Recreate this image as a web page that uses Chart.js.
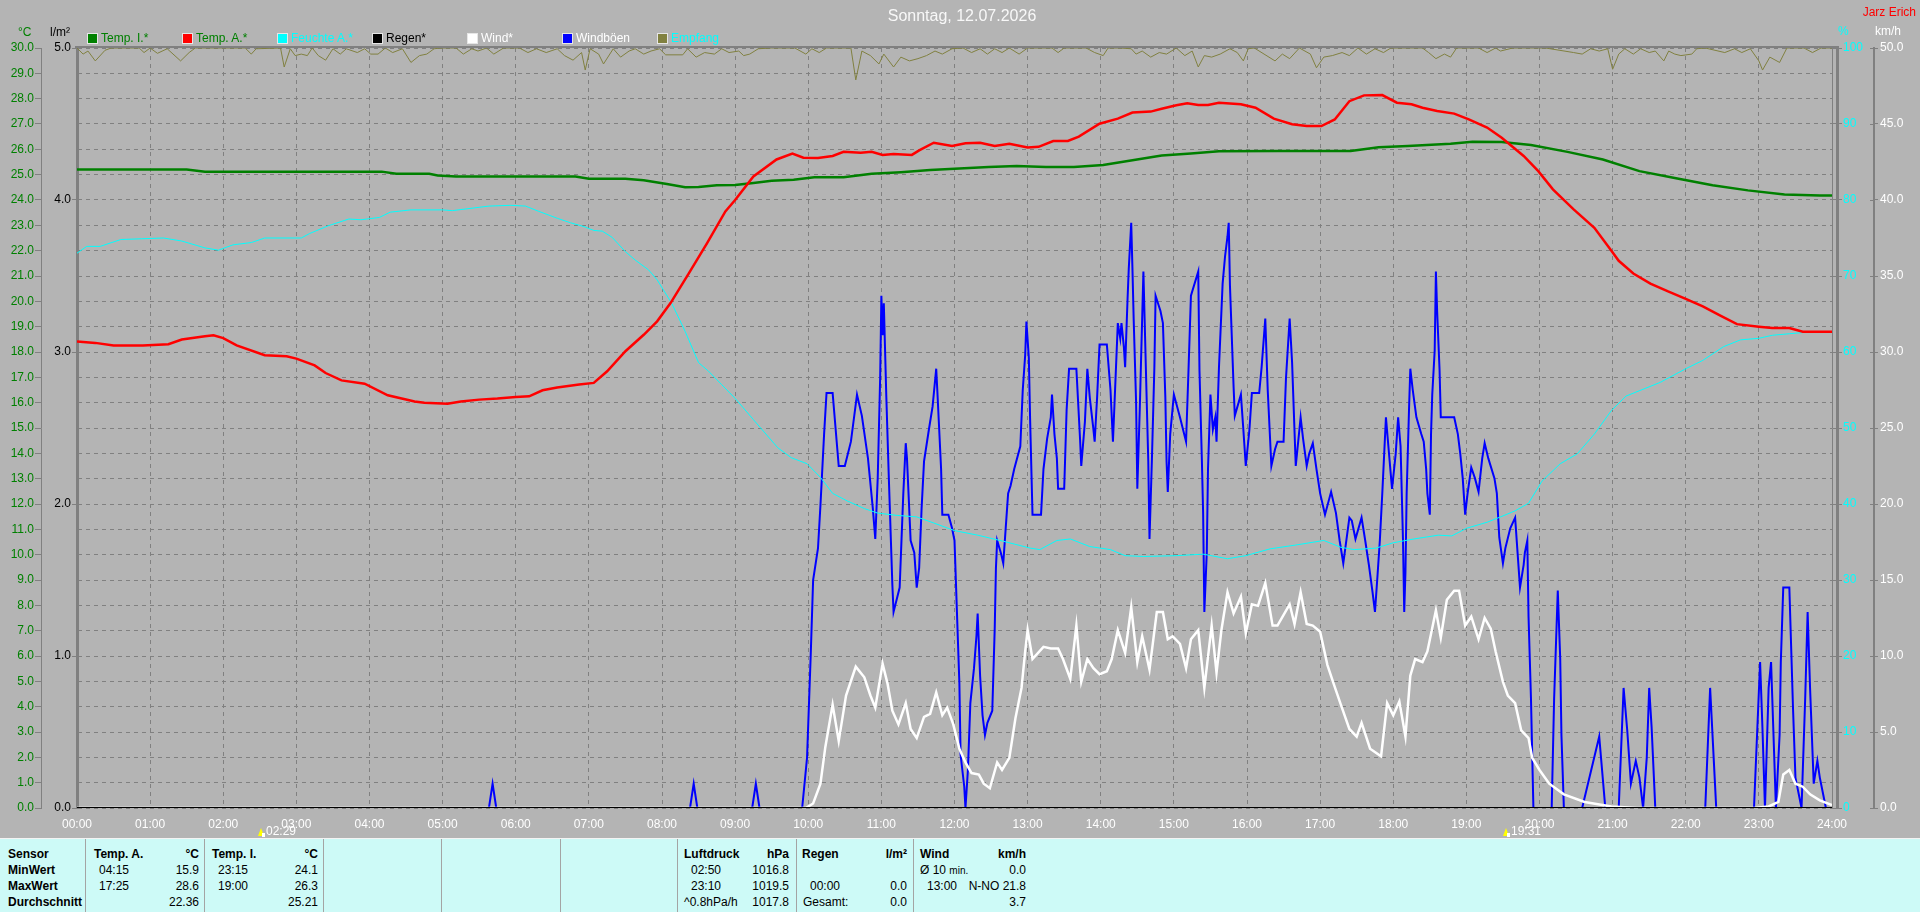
<!DOCTYPE html>
<html>
<head>
<meta charset="utf-8">
<title>Sonntag, 12.07.2026</title>
<script src="https://cdn.jsdelivr.net/npm/chart.js@4.4.1/dist/chart.umd.min.js"></script>
<style>
  body { margin: 0; background: #b4b4b4; width: 1920px; height: 912px; overflow: hidden; position: relative;
         font-family: "Liberation Sans Narrow", "Liberation Sans", Arial, sans-serif; font-size: 12px; }
  #wrap { position: absolute; left: 0; top: 0; width: 1920px; height: 838px; }
  .t { position: absolute; white-space: nowrap; line-height: 14px; }
  .lg { position: absolute; top: 31px; height: 14px; line-height: 14px; white-space: nowrap; }
  .lg i { position: absolute; left: 0; top: 2px; width: 9px; height: 9px; border: 1px solid #e6e6e6; }
  .lg span { position: absolute; left: 14px; top: 0; }
  #tbl { position: absolute; left: 0; top: 838px; width: 1920px; height: 73px; background: #cdfaf7; border-top: 1px solid #f4f4f4; }
  #tbl .sep { position: absolute; top: 0; width: 1px; height: 73px; background: #a4a4a4; }
  #tbl .c { position: absolute; white-space: nowrap; line-height: 16px; color: #000; }
  #tbl .b { font-weight: bold; }
</style>
</head>
<body>
<div id="wrap"><canvas id="wetter" width="1920" height="838"></canvas></div>

<div class="t" style="left:0;width:1924px;top:7px;text-align:center;color:#f8f8f8;font-size:16px;line-height:18px;">Sonntag, 12.07.2026</div>
<div class="t" style="right:4px;top:5px;color:#ff0000;">Jarz Erich</div>

<div class="t" style="left:18px;top:25px;color:#008000;">°C</div>
<div class="t" style="left:50px;top:25px;color:#000;">l/m²</div>
<div class="t" style="left:1838px;top:24px;color:#00ffff;">%</div>
<div class="t" style="left:1875px;top:24px;color:#fff;">km/h</div>

<div class="lg" style="left:87px"><i style="background:#008000"></i><span style="color:#008000">Temp. I.*</span></div>
<div class="lg" style="left:182px"><i style="background:#ff0000"></i><span style="color:#008000">Temp. A.*</span></div>
<div class="lg" style="left:277px"><i style="background:#00ffff"></i><span style="color:#00ffff">Feuchte A.*</span></div>
<div class="lg" style="left:372px"><i style="background:#000"></i><span style="color:#000">Regen*</span></div>
<div class="lg" style="left:467px"><i style="background:#fff"></i><span style="color:#fff">Wind*</span></div>
<div class="lg" style="left:562px"><i style="background:#0000ff"></i><span style="color:#fff">Windböen</span></div>
<div class="lg" style="left:657px"><i style="background:#808040"></i><span style="color:#00ffff">Empfang</span></div>

<div id="tbl">
  <div class="sep" style="left:85px"></div>
  <div class="sep" style="left:204px"></div>
  <div class="sep" style="left:323px"></div>
  <div class="sep" style="left:441px"></div>
  <div class="sep" style="left:560px"></div>
  <div class="sep" style="left:677px"></div>
  <div class="sep" style="left:796px"></div>
  <div class="sep" style="left:913px"></div>

  <div class="c b" style="left:8px;top:7px">Sensor</div>
  <div class="c b" style="left:8px;top:23px">MinWert</div>
  <div class="c b" style="left:8px;top:39px">MaxWert</div>
  <div class="c b" style="left:8px;top:55px">Durchschnitt</div>

  <div class="c b" style="left:94px;top:7px">Temp. A.</div>
  <div class="c b" style="right:1721px;top:7px">°C</div>
  <div class="c" style="left:99px;top:23px">04:15</div>
  <div class="c" style="right:1721px;top:23px">15.9</div>
  <div class="c" style="left:99px;top:39px">17:25</div>
  <div class="c" style="right:1721px;top:39px">28.6</div>
  <div class="c" style="right:1721px;top:55px">22.36</div>

  <div class="c b" style="left:212px;top:7px">Temp. I.</div>
  <div class="c b" style="right:1602px;top:7px">°C</div>
  <div class="c" style="left:218px;top:23px">23:15</div>
  <div class="c" style="right:1602px;top:23px">24.1</div>
  <div class="c" style="left:218px;top:39px">19:00</div>
  <div class="c" style="right:1602px;top:39px">26.3</div>
  <div class="c" style="right:1602px;top:55px">25.21</div>

  <div class="c b" style="left:684px;top:7px">Luftdruck</div>
  <div class="c b" style="right:1131px;top:7px">hPa</div>
  <div class="c" style="left:691px;top:23px">02:50</div>
  <div class="c" style="right:1131px;top:23px">1016.8</div>
  <div class="c" style="left:691px;top:39px">23:10</div>
  <div class="c" style="right:1131px;top:39px">1019.5</div>
  <div class="c" style="left:684px;top:55px">^0.8hPa/h</div>
  <div class="c" style="right:1131px;top:55px">1017.8</div>

  <div class="c b" style="left:802px;top:7px">Regen</div>
  <div class="c b" style="right:1013px;top:7px">l/m²</div>
  <div class="c" style="left:810px;top:39px">00:00</div>
  <div class="c" style="right:1013px;top:39px">0.0</div>
  <div class="c" style="left:803px;top:55px">Gesamt:</div>
  <div class="c" style="right:1013px;top:55px">0.0</div>

  <div class="c b" style="left:920px;top:7px">Wind</div>
  <div class="c b" style="right:894px;top:7px">km/h</div>
  <div class="c" style="left:920px;top:23px">Ø 10 <span style="font-size:10px">min.</span></div>
  <div class="c" style="right:894px;top:23px">0.0</div>
  <div class="c" style="left:927px;top:39px">13:00</div>
  <div class="c" style="right:894px;top:39px">N-NO 21.8</div>
  <div class="c" style="right:894px;top:55px">3.7</div>
</div>

<script>
// time of day in minutes after midnight

const tempATime = [0,15,30,54,75,86,105,112,120,131, 154,172,180,195,204,217,236,255,277,285,
  304,315,330,345,360,371,382,394,412,424, 435,450,465,476,487,502,517,532,540,555,
  574,587,596,608,620,629,643,652,661,670, 685,691,703,718,729,741,753,765,780,789,
  801,813,822,839,854,866,881,890,902,911, 920,928,937,955,967,982,997,1009,1021,1032,
  1044,1056,1071,1083,1095,1104,1116,1130,1142,1157, 1169,1187,1199,1211,1228,1245,1259,1265,1277,1291,
  1305,1320,1334,1348,1362,1380,1391,1405,1416,1440];
const tempAVal = [18.41,18.36,18.26,18.26,18.31,18.49,18.62,18.66,18.55,18.26, 17.87,17.83,17.74,17.47,17.17,16.88,16.75,16.29,16.05,16.0,
  15.96,16.05,16.12,16.16,16.22,16.25,16.49,16.6,16.72,16.78, 17.24,18.03,18.68,19.21,19.93,21.1,22.3,23.55,24.0,24.93,
  25.6,25.83,25.67,25.66,25.74,25.9,25.87,25.9,25.78,25.82, 25.78,25.96,26.26,26.13,26.24,26.26,26.13,26.22,26.07,26.1,
  26.33,26.33,26.5,27.01,27.21,27.45,27.49,27.6,27.74,27.82, 27.75,27.75,27.84,27.78,27.64,27.21,26.99,26.92,26.92,27.18,
  27.9,28.13,28.14,27.84,27.78,27.64,27.51,27.41,27.18,26.86, 26.46,25.74,25.14,24.42,23.63,22.9,22.0,21.6,21.1,20.7,
  20.4,20.1,19.8,19.45,19.1,19.0,18.95,18.95,18.8,18.8];

const tempITime = [0,90,105,250,262,289,296,311,409,420, 450,465,484,499,510,525,540,555,570,588,
  605,629,652,676,700,724,748,771,795,818, 842,866,890,914,937,985,1045,1068,1092,1127,
  1145,1169,1193,1223,1252,1282,1312,1342,1371,1401, 1430,1440];
const tempIVal = [25.2,25.2,25.12,25.12,25.04,25.04,24.97,24.93,24.93,24.84, 24.84,24.78,24.63,24.5,24.51,24.58,24.59,24.67,24.76,24.8,
  24.9,24.9,25.04,25.1,25.18,25.24,25.3,25.34,25.3,25.3, 25.38,25.57,25.76,25.84,25.92,25.93,25.93,26.08,26.13,26.22,
  26.3,26.29,26.17,25.9,25.6,25.14,24.86,24.58,24.38,24.22, 24.18,24.18];

const humTime = [0,8,19,36,53,71,86,105,116,128, 143,154,184,191,206,223,233,248,257,274,
  300,308,338,356,368,379,394,405,416,424, 431,439,450,458,469,476,488,499,510,518,
  529,540,555,575,586,599,610,620,632,646, 657,673,689,703,720,739,760,782,790,804,
  815,831,848,860,875,902,924,944,959,979, 1000,1023,1037,1048,1066,1080,1097,1117,1128,1140,
  1157,1168,1180,1191,1202,1217,1231,1245,1259,1271, 1285,1299,1320,1334,1351,1365,1380,1391,1405,1419,
  1440];
const humVal = [73.0,73.9,73.9,74.8,74.9,75.0,74.6,73.7,73.4,74.1, 74.4,75.0,75.0,75.6,76.6,77.5,77.4,77.7,78.4,78.7,
  78.7,78.6,79.2,79.3,79.2,78.5,77.6,77.0,76.5,76.0, 75.9,75.1,73.2,72.1,70.8,69.5,66.4,62.7,58.6,57.5,
  55.7,53.9,51.1,47.4,46.1,45.3,43.5,41.4,40.4,39.4, 38.8,38.5,38.3,37.5,36.5,35.9,35.1,34.2,34.0,35.2,
  35.4,34.4,34.0,33.2,33.1,33.2,33.4,32.8,33.2,34.1, 34.6,35.2,34.3,34.0,34.2,34.9,35.4,35.9,35.8,36.8,
  37.6,38.3,39.1,40.1,43.0,45.3,46.6,49.2,52.3,54.2, 55.1,56.0,57.8,58.9,60.7,61.6,61.8,62.2,62.4,62.6,
  62.6];

const rainTime = [0, 1440];
const rainVal = [0.0, 0.0];

const windTime = [0,598,604,610,614,620,625,631,639,646, 651,655,661,665,669,674,680,684,689,695,
  700,705,710,714,719,724,729,734,740,744, 749,755,759,765,770,775,778,780,784,793,
  799,805,809,815,820,824,829,834,839,845, 849,854,860,865,870,874,880,886,891,895,
  899,905,910,914,920,925,931,935,939,944, 949,955,959,964,969,975,981,985,995,999,
  1004,1009,1014,1020,1026,1031,1037,1044,1050,1054, 1061,1070,1075,1080,1085,1090,1094,1098,1104,1108,
  1115,1119,1124,1130,1134,1139,1144,1150,1155,1160, 1164,1170,1174,1180,1185,1191,1194,1200,1208,1220,
  1237,1259,1280,1376,1388,1396,1400,1405,1410,1416, 1422,1430,1440];
const windVal = [0,0,0.3,1.6,4.0,6.8,4.4,7.4,9.3,8.6, 7.4,6.6,9.5,8.2,6.4,5.5,6.9,5.2,4.6,6.0,
  6.2,7.6,6.1,6.6,5.5,3.9,3.0,2.3,2.2,1.6, 1.3,3.0,2.5,3.3,5.9,7.9,10.3,11.7,9.8,10.6,
  10.5,10.5,9.8,8.5,12.0,8.3,9.8,9.2,8.8,9.0, 9.8,11.7,10.2,13.2,9.6,11.3,9.1,12.9,12.9,11.1,
  11.3,10.8,9.2,11.1,11.7,7.9,12.0,8.9,11.7,14.2, 12.8,13.9,11.5,13.4,13.3,14.8,12.0,12.0,13.4,12.1,
  14.2,12.1,12.0,11.6,9.4,8.2,6.8,5.2,4.7,5.6, 3.9,3.4,6.9,6.1,7.0,4.7,8.7,9.8,9.6,10.3,
  13.0,11.2,13.7,14.3,14.3,12.0,12.6,11.1,12.5,11.8, 10.3,8.3,7.4,6.9,5.1,4.6,3.3,2.5,1.6,0.9,
  0.4,0.1,0,0,0.1,0.4,2.2,2.5,1.6,1.4, 0.9,0.5,0.2];

const gustTime = [0,338,341,344,503,506,509,554,557,560,595,
  599,602,604,608,610,613,615,620,625,630, 635,640,644,649,653,655,657,659,660,661,
  662,664,666,669,670,675,678,680,681,684, 687,689,691,693,695,699,702,705,706,709,
  710,715,718,720,722,724,725,728,729,731, 733,736,738,739,741,743,745,747,751,753,
  754,755,758,760,762,764,766,769,774,776, 778,779,781,782,784,791,793,796,799,800,
  802,804,805,810,812,814,820,823,824,827, 829,831,834,835,837,839,845,848,850,852,
  854,856,857,859,860,862,863,865,866,867, 869,870,872,875,877,879,880,882,884,885,
  889,891,893,894,895,897,900,905,910,912, 914,920,921,923,924,925,927,928,930,932,
  934,935,937,940,942,944,945,946,949,950, 955,957,959,962,964,970,972,975,977,980,
  983,985,990,992,995,997,1000,
  1004,1006,1009,1011,1014,1017,1020,1024,1029,1033, 1036,1039,1041,1044,1046,1049,1054,1057,1060,1063,
  1065,1067,1069,1071,1074,1076,1079,1082,1084,1086, 1088,1089,1090,1091,1093,1094,1096,1099,1103,1105,
  1107,1108,1110,1111,1112,1114,1115,1116,1118,1119, 1130,1133,1135,1137,1139,1141,1144,1147,1150,1153,
  1155,1158,1163,1165,1167,1170,1172,1176,1180,1182, 1184,1187,1188,1190,1191,1193,1195,1210,1212,1215,
  1217,1218,1220,1235,1249,1254,1265,1269,1272,1275, 1279,1282,1285,1288,1290,1292,1295,1336,1340,1345,
  1376,1381,1383,1385,1388,1390,1392,1394,1397,1398, 1400,1405,1408,1410,1415,1418,1420,1422,1425,1428,
  1430,1435,1440];
const gustVal = [0,0,1.6,0,0,1.6,0,0,1.6,0,0,
  3.3,10.0,15.0,17.1,19.9,24.6,27.3,27.3,22.5,22.5, 24.1,27.2,25.8,23.0,19.7,17.7,21.7,28.3,33.7,31.1,
  33.2,27.2,22.0,14.7,12.9,14.5,20.7,24.0,23.0,17.6, 16.8,14.5,15.8,19.7,22.8,24.9,26.4,28.9,27.3,22.3,
  19.3,19.3,18.4,17.6,12.9,8.2,3.5,1.4,0,2.5, 6.9,9.2,11.3,12.8,8.7,6.1,4.8,5.6,6.4,11.8,
  15.8,17.6,16.8,16.1,18.4,20.7,21.2,22.3,23.8,27.5, 29.8,32.0,29.6,25.7,19.3,19.3,22.3,24.3,25.7,27.2,
  24.6,23.0,21.0,21.0,26.2,28.9,28.9,24.3,22.5,25.4, 28.9,27.0,24.9,24.1,27.0,30.5,30.5,27.5,24.1,28.0,
  31.9,30.9,31.9,30.3,29.0,33.5,35.5,38.5,35.5,32.2, 26.7,21.0,26.2,35.3,29.0,22.8,17.7,23.0,29.0,33.7,
  32.7,31.9,27.0,22.8,20.8,24.6,27.2,25.7,24.1,28.8, 33.7,35.3,28.8,22.8,19.4,12.9,16.8,22.3,27.2,24.9,
  25.7,24.1,29.0,34.5,36.3,37.6,38.5,34.4,27.7,25.8, 27.2,24.9,22.5,24.9,27.3,27.3,29.0,32.2,27.5,22.5,
  23.6,24.1,24.1,28.3,32.2,29.3,22.5,
  25.7,24.3,22.5,23.3,24.0,22.3,20.7,19.3,20.8,19.4, 17.6,16.1,17.3,19.1,18.9,17.7,19.1,17.6,16.0,14.2,
  12.9,15.2,17.6,20.7,25.7,23.8,21.0,23.3,25.7,23.8, 17.6,12.9,15.5,20.7,26.4,28.9,27.5,25.7,24.6,24.1,
  22.3,20.7,19.3,24.6,27.2,30.1,35.3,32.7,28.8,25.7, 25.7,24.6,23.3,21.7,19.3,20.7,22.4,21.7,20.8,23.0,
  24.0,23.0,21.7,20.7,17.8,16.1,17.1,18.4,19.1,16.8, 14.5,16.0,16.8,17.6,12.6,7.2,0,0,7.2,14.3,
  9.8,4.8,0,0,4.7,0,0,7.9,5.1,1.6, 3.1,2.0,0,3.3,7.9,5.3,0,0,7.9,0,
  0,9.6,5.1,0,7.9,9.6,4.8,0,4.8,9.6, 14.5,14.5,6.6,2.0,0,7.2,12.9,7.9,1.6,3.1,
  2.0,0,0];

const empTime = [0,5,9,15,23,28,51,55,60,66, 74,85,92,97,138,143,147,167,170,175,
  179,184,189,193,198,204,210,216,221,230, 236,241,247,253,259,267,274,281,287,293,
  299,311,317,324,329,336,342,350,363,370, 377,385,394,400,407,414,417,421,428,432,
  440,446,453,458,465,471,478,483,497,501, 508,515,523,529,535,543,547,552,559,570,
  589,598,603,609,615,635,639,644,651,658, 662,670,676,683,690,697,704,710,718,727,
  734,741,747,753,759,765,773,780,800,805, 810,828,835,842,846,856,865,869,874,881,
  888,894,902,909,915,920,925,931,938,946, 952,957,961,966,983,989,995,1003,1012,1017,
  1023,1030,1038,1044,1051,1058,1065,1072,1078,1104, 1109,1115,1122,1127,1132,1150,1157,1164,1168,1178,
  1196,1205,1228,1235,1242,1249,1256,1260,1265,1270, 1277,1283,1290,1295,1302,1306,1311,1316,1325,1329,
  1336,1352,1360,1366,1373,1380,1383,1389,1397,1403, 1417,1424,1431,1440];
const empVal = [100,99.2,99.6,98.3,99.7,100,100,99.4,100,99.3, 99.9,98.3,99.4,100,100,99.2,99.9,100,97.5,99.9,
  99.0,99.2,99.0,100,99.0,98.4,99.9,99.2,99.9,99.4, 99.9,99.2,99.2,100,99.4,99.9,98.1,99.0,99.2,99.9,
  100,100,99.2,99.9,99.6,100,99.2,100,100,99.4, 99.9,99.4,99.9,99.0,98.4,99.4,97.1,99.9,99.2,97.9,
  99.9,98.8,99.6,99.9,99.2,99.6,99.9,99.1,99.1,99.9, 98.8,99.4,99.2,99.9,99.4,99.6,99.0,99.2,99.9,100,
  100,99.2,99.9,99.4,100,100,95.8,99.6,99.0,97.9, 99.2,97.5,98.8,98.3,98.6,99.0,99.6,99.2,99.9,100,
  99.4,99.9,99.2,99.9,99.4,100,99.2,100,100,99.4, 100,100,99.4,99.0,100,100,99.9,99.2,99.6,98.8,
  99.4,99.2,100,99.0,99.6,97.5,99.0,98.8,99.2,99.9, 99.4,98.3,99.9,100,98.3,99.2,98.6,100,99.2,97.4,
  98.8,99.0,99.4,99.0,100,99.2,99.9,99.4,100,100, 99.4,98.6,99.2,98.8,100,100,99.4,100,99.6,100,
  100,100,99.4,99.2,99.9,99.6,99.9,97.2,99.2,99.9, 99.2,99.9,99.4,99.6,98.3,99.6,99.2,99.0,99.2,99.9,
  100,99.4,99.9,99.4,99.9,98.3,97.1,98.8,98.1,100, 100,99.4,100,100];

const sunTimes = [149, 1171];
const sunLabels = ['02:29', '19:31'];

function pts(times, vals) {
  return times.map((t, i) => ({ x: t, y: vals[i] }));
}

Chart.defaults.font.family = '"Liberation Sans Narrow", "Liberation Sans", Arial, sans-serif';
Chart.defaults.font.size = 12;

const gridGrey = '#808080';

const deco = {
  id: 'deco',
  afterDraw(chart) {
    const { ctx, chartArea: a, scales } = chart;
    ctx.save();
    ctx.fillStyle = gridGrey;
    ctx.fillRect(a.left - 2, a.top - 2, a.right - a.left + 9, 2);
    ctx.fillRect(a.right + 4, a.top - 2, 3, a.bottom - a.top + 2);

    const w = scales.wind;
    ctx.strokeStyle = gridGrey;
    ctx.lineWidth = 1;
    w.ticks.forEach(t => {
      const y = Math.round(w.getPixelForValue(t.value)) + 0.5;
      ctx.beginPath();
      ctx.moveTo(w.left - 4, y);
      ctx.lineTo(w.left, y);
      ctx.stroke();
    });

    sunTimes.forEach((t, i) => {
      const x = Math.round(scales.x.getPixelForValue(t));
      ctx.fillStyle = '#ffff00';
      ctx.beginPath();
      ctx.moveTo(x - 1, 836);
      ctx.lineTo(x + 2, 828);
      ctx.lineTo(x + 5, 836);
      ctx.closePath();
      ctx.fill();
      ctx.fillStyle = '#ffffff';
      ctx.fillRect(x + 3, 833, 3, 4);
      ctx.font = '12px "Liberation Sans Narrow", "Liberation Sans", Arial, sans-serif';
      ctx.textBaseline = 'middle';
      ctx.textAlign = 'left';
      ctx.fillText(sunLabels[i], x + 7, 832);
    });
    ctx.restore();
  }
};

const line = (label, data, axis, color, width, order) => ({
  label, data, yAxisID: axis, borderColor: color, backgroundColor: color,
  borderWidth: width, pointRadius: 0, tension: 0, fill: false, order
});

new Chart(document.getElementById('wetter'), {
  type: 'line',
  data: {
    datasets: [
      line('Regen*', pts(rainTime, rainVal), 'rain', '#000000', 2, 0),
      line('Temp. A.*', pts(tempATime, tempAVal), 'temp', '#ff0000', 2.5, 1),
      line('Temp. I.*', pts(tempITime, tempIVal), 'temp', '#008000', 2.5, 2),
      line('Feuchte A.*', pts(humTime, humVal), 'hum', '#00ffff', 1, 3),
      line('Wind*', pts(windTime, windVal), 'wind', '#ffffff', 2.5, 4),
      line('Windböen', pts(gustTime, gustVal), 'wind', '#0000ff', 2, 5),
      line('Empfang', pts(empTime, empVal), 'hum', '#808040', 1, 6)
    ]
  },
  options: {
    responsive: false,
    animation: false,
    devicePixelRatio: 1,
    layout: { padding: { top: 48, left: 0, right: 0, bottom: 0 } },
    plugins: { legend: { display: false }, tooltip: { enabled: false } },
    scales: {
      x: {
        type: 'linear', min: 0, max: 1440,
        afterFit: s => { s.height = 30; },
        ticks: {
          stepSize: 60, autoSkip: false, maxRotation: 0, color: '#ffffff', padding: 9,
          callback: v => String(v / 60).padStart(2, '0') + ':00'
        },
        grid: { color: gridGrey, drawTicks: false },
        border: { display: false, dash: [4, 4] }
      },
      temp: {
        position: 'left', weight: 1, min: 0, max: 30,
        afterFit: s => { s.width = 41; },
        ticks: { stepSize: 1, autoSkip: false, color: '#008000', padding: 1, callback: v => v.toFixed(1) },
        grid: { color: gridGrey, tickLength: 6, tickColor: gridGrey },
        border: { display: true, color: gridGrey, width: 1, dash: [4, 4] }
      },
      rain: {
        position: 'left', weight: 0, min: 0, max: 5,
        afterFit: s => { s.width = 36; },
        ticks: { stepSize: 1, autoSkip: false, color: '#000000', padding: 1, callback: v => v.toFixed(1) },
        grid: { drawOnChartArea: false, tickLength: 5, color: gridGrey },
        border: { display: true, color: gridGrey, width: 3 }
      },
      hum: {
        position: 'right', weight: 0, min: 0, max: 100,
        afterFit: s => { s.width = 42; },
        ticks: { stepSize: 10, autoSkip: false, color: '#00ffff', padding: 1 },
        grid: { drawOnChartArea: false, tickLength: 10, color: gridGrey },
        border: { display: true, color: gridGrey, width: 1 }
      },
      wind: {
        position: 'right', weight: 1, min: 0, max: 50,
        afterFit: s => { s.width = 46; },
        ticks: { stepSize: 5, autoSkip: false, color: '#ffffff', padding: 2, callback: v => v.toFixed(1) },
        grid: { drawOnChartArea: false, tickLength: 4, color: gridGrey },
        border: { display: true, color: gridGrey, width: 2 }
      }
    }
  },
  plugins: [deco]
});
</script>
</body>
</html>
